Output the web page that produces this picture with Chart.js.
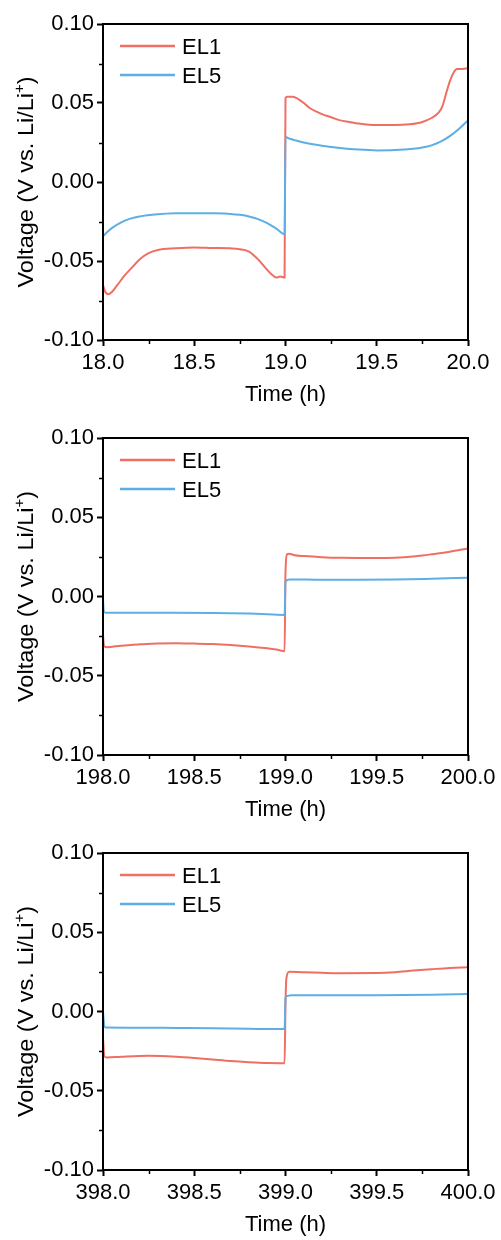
<!DOCTYPE html>
<html>
<head>
<meta charset="utf-8">
<script src="https://cdn.jsdelivr.net/npm/chart.js@4.4.1/dist/chart.umd.min.js"></script>
<style>
  html, body { margin: 0; padding: 0; background: #fff; }
  .panel { position: relative; width: 501px; }
</style>
</head>
<body>
<div class="panel" style="height:414px"><canvas id="c1"></canvas></div>
<div class="panel" style="height:413px"><canvas id="c2"></canvas></div>
<div class="panel" style="height:413px"><canvas id="c3"></canvas></div>
<script>
// ---------- data ----------
const seriesNames = ['EL1', 'EL5'];
const voltTicks = [-0.10, -0.05, 0.00, 0.05, 0.10];

// panel 1 : 18 - 20 h
const p1Range = [18.0, 20.0];
const p1TimeEL1 = [18.0, 18.01, 18.03, 18.05, 18.08, 18.12, 18.16, 18.2, 18.25, 18.3, 18.4, 18.5, 18.6, 18.7, 18.75, 18.8, 18.85, 18.88, 18.92, 18.95, 18.97, 18.995,
  19.0, 19.01, 19.04, 19.07, 19.1, 19.13, 19.17, 19.2, 19.25, 19.3, 19.35, 19.4, 19.5, 19.6, 19.68, 19.75, 19.8, 19.84, 19.86, 19.88, 19.9, 19.92, 19.94, 19.97, 20.0];
const p1VoltEL1 = [-0.065, -0.069, -0.071, -0.0695, -0.065, -0.059, -0.054, -0.049, -0.045, -0.043, -0.042, -0.0415, -0.0418, -0.042, -0.0425, -0.044, -0.049, -0.053, -0.058, -0.0605, -0.0598, -0.0605,
  0.053, 0.054, 0.054, 0.0525, 0.050, 0.047, 0.0445, 0.043, 0.041, 0.039, 0.038, 0.037, 0.036, 0.036, 0.0365, 0.038, 0.0405, 0.044, 0.048, 0.056, 0.0635, 0.069, 0.0715, 0.0715, 0.072];
const p1TimeEL5 = [18.0, 18.02, 18.05, 18.1, 18.15, 18.2, 18.3, 18.4, 18.5, 18.6, 18.7, 18.75, 18.8, 18.85, 18.9, 18.95, 18.995,
  19.0, 19.02, 19.05, 19.1, 19.2, 19.3, 19.4, 19.5, 19.6, 19.7, 19.75, 19.8, 19.85, 19.9, 19.95, 20.0];
const p1VoltEL5 = [-0.0345, -0.032, -0.029, -0.0255, -0.0232, -0.0218, -0.0204, -0.0198, -0.0197, -0.0198, -0.0202, -0.0208, -0.0218, -0.0235, -0.026, -0.0295, -0.033,
  0.0285, 0.0275, 0.0265, 0.025, 0.023, 0.0215, 0.0205, 0.0200, 0.0202, 0.0210, 0.0218, 0.0232, 0.0255, 0.029, 0.0335, 0.039];

// panel 2 : 198 - 200 h
const p2Range = [198.0, 200.0];
const p2TimeEL1 = [198.0, 198.005, 198.02, 198.1, 198.2, 198.3, 198.4, 198.5, 198.6, 198.7, 198.8, 198.9, 198.95, 198.995,
  199.0, 199.008, 199.02, 199.05, 199.1, 199.2, 199.3, 199.4, 199.5, 199.6, 199.7, 199.75, 199.8, 199.9, 200.0];
const p2VoltEL1 = [-0.024, -0.031, -0.032, -0.031, -0.0302, -0.0296, -0.0295, -0.0297, -0.0300, -0.0306, -0.0315, -0.0327, -0.0335, -0.0345,
  0.015, 0.0265, 0.027, 0.026, 0.0255, 0.0248, 0.0244, 0.0243, 0.0243, 0.0245, 0.0252, 0.0258, 0.0266, 0.0283, 0.0303];
const p2TimeEL5 = [198.0, 198.005, 198.02, 198.2, 198.4, 198.6, 198.8, 198.9, 198.995, 199.0, 199.02, 199.2, 199.4, 199.6, 199.8, 200.0];
const p2VoltEL5 = [-0.002, -0.0098, -0.0103, -0.0102, -0.0102, -0.0104, -0.0108, -0.0112, -0.0116, 0.0095, 0.0108, 0.0105, 0.0105, 0.0107, 0.0112, 0.0118];

// panel 3 : 398 - 400 h
const p3Range = [398.0, 400.0];
const p3TimeEL1 = [398.0, 398.008, 398.02, 398.1, 398.25, 398.4, 398.5, 398.6, 398.7, 398.8, 398.9, 398.995,
  399.0, 399.005, 399.02, 399.1, 399.2, 399.3, 399.5, 399.6, 399.7, 399.8, 399.9, 400.0];
const p3VoltEL1 = [-0.0167, -0.0285, -0.029, -0.0285, -0.0279, -0.0285, -0.0293, -0.0303, -0.0313, -0.0320, -0.0325, -0.0326,
  0.005, 0.021, 0.0251, 0.0247, 0.0244, 0.0242, 0.0243, 0.0248, 0.0258, 0.0267, 0.0275, 0.0279];
const p3TimeEL5 = [398.0, 398.008, 398.02, 398.2, 398.4, 398.6, 398.8, 398.995, 399.0, 399.01, 399.03, 399.2, 399.5, 399.8, 400.0];
const p3VoltEL5 = [0.0, -0.0095, -0.0101, -0.0102, -0.0104, -0.0106, -0.0109, -0.0111, 0.0085, 0.0098, 0.0103, 0.0102, 0.0103, 0.0106, 0.0110];

// ---------- style ----------
const RED = '#ef6f63';
const BLUE = '#5eaee6';
const FONT = '"Liberation Sans", Arial, sans-serif';

function pts(t, v) { return t.map((x, i) => ({ x: x, y: v[i] })); }

// frame, minor ticks, axis titles and legend
const decor = {
  id: 'decor',
  afterDraw(chart) {
    const ctx = chart.ctx, a = chart.chartArea;
    const xs = chart.scales.x, ys = chart.scales.y;
    ctx.save();
    ctx.strokeStyle = '#000';
    ctx.lineWidth = 2;
    ctx.strokeRect(a.left, a.top, a.right - a.left, a.bottom - a.top);

    // minor ticks
    ctx.lineWidth = 1.5;
    ctx.beginPath();
    for (let v = xs.min + 0.25; v < xs.max; v += 0.5) {
      const px = Math.round(xs.getPixelForValue(v)) + 0.5;
      ctx.moveTo(px, a.bottom); ctx.lineTo(px, a.bottom + 4);
    }
    for (let v = -0.075; v < 0.1; v += 0.05) {
      const py = Math.round(ys.getPixelForValue(v)) + 0.5;
      ctx.moveTo(a.left, py); ctx.lineTo(a.left - 4, py);
    }
    ctx.stroke();

    // x title
    ctx.fillStyle = '#000';
    ctx.font = '22px ' + FONT;
    ctx.textAlign = 'center';
    ctx.textBaseline = 'middle';
    ctx.fillText('Time (h)', (a.left + a.right) / 2, a.bottom + 55);

    // y title with superscript
    const main = 'Voltage (V vs. Li/Li', sup = '+', end = ')';
    ctx.font = '22px ' + FONT;
    const wMain = ctx.measureText(main).width, wEnd = ctx.measureText(end).width;
    ctx.font = '14px ' + FONT;
    const wSup = ctx.measureText(sup).width;
    const total = wMain + wSup + wEnd;
    const stretch = 211 / total;
    ctx.translate(25, (a.top + a.bottom) / 2);
    ctx.rotate(-Math.PI / 2);
    ctx.scale(stretch, 1);
    ctx.textAlign = 'left';
    ctx.textBaseline = 'alphabetic';
    let x0 = -total / 2;
    const base = 8;
    ctx.font = '22px ' + FONT;
    ctx.fillText(main, x0, base);
    ctx.font = '14px ' + FONT;
    ctx.fillText(sup, x0 + wMain, base - 9);
    ctx.font = '22px ' + FONT;
    ctx.fillText(end, x0 + wMain + wSup, base);
    ctx.restore();

    // legend
    ctx.save();
    ctx.font = '22px ' + FONT;
    ctx.textAlign = 'left';
    ctx.textBaseline = 'middle';
    const rows = [22, 51];
    chart.data.datasets.forEach((ds, i) => {
      const y = a.top + rows[i];
      ctx.strokeStyle = ds.borderColor;
      ctx.lineWidth = 2.5;
      ctx.beginPath();
      ctx.moveTo(a.left + 17, y); ctx.lineTo(a.left + 72, y);
      ctx.stroke();
      ctx.fillStyle = '#000';
      ctx.fillText(ds.label, a.left + 79, y + 2);
    });
    ctx.restore();
  }
};

function buildPanel(id, range, tA, vA, tB, vB, topPad, xAxisH) {
  return new Chart(document.getElementById(id), {
    type: 'line',
    data: {
      datasets: [
        { label: seriesNames[0], data: pts(tA, vA), borderColor: RED, borderWidth: 2, pointRadius: 0, cubicInterpolationMode: 'monotone', order: 1 },
        { label: seriesNames[1], data: pts(tB, vB), borderColor: BLUE, borderWidth: 2, pointRadius: 0, cubicInterpolationMode: 'monotone', order: 0 }
      ]
    },
    options: {
      responsive: true,
      maintainAspectRatio: false,
      animation: false,
      devicePixelRatio: 1,
      layout: { padding: { top: topPad, right: 33, left: 0, bottom: 0 } },
      plugins: { legend: { display: false }, tooltip: { enabled: false } },
      scales: {
        x: {
          type: 'linear',
          min: range[0], max: range[1],
          afterFit: s => { s.height = xAxisH; },
          grid: { drawOnChartArea: false, drawTicks: true, tickLength: 6, tickColor: '#000', tickWidth: 2 },
          border: { display: false },
          ticks: {
            stepSize: 0.5, padding: 4, color: '#000', maxRotation: 0,
            font: { family: FONT, size: 22 },
            callback: v => v.toFixed(1)
          }
        },
        y: {
          min: voltTicks[0], max: voltTicks[voltTicks.length - 1],
          afterFit: s => { s.width = 103; },
          afterBuildTicks: s => { s.ticks = voltTicks.map(v => ({ value: v })); },
          grid: { drawOnChartArea: false, drawTicks: true, tickLength: 6, tickColor: '#000', tickWidth: 2 },
          border: { display: false },
          ticks: {
            padding: 3, color: '#000',
            font: { family: FONT, size: 22 },
            callback: v => (Math.abs(v) < 1e-9 ? 0 : v).toFixed(2)
          }
        }
      }
    },
    plugins: [decor]
  });
}

buildPanel('c1', p1Range, p1TimeEL1, p1VoltEL1, p1TimeEL5, p1VoltEL5, 24, 74);
buildPanel('c2', p2Range, p2TimeEL1, p2VoltEL1, p2TimeEL5, p2VoltEL5, 24, 72);
buildPanel('c3', p3Range, p3TimeEL1, p3VoltEL1, p3TimeEL5, p3VoltEL5, 26, 70);
</script>
</body>
</html>
